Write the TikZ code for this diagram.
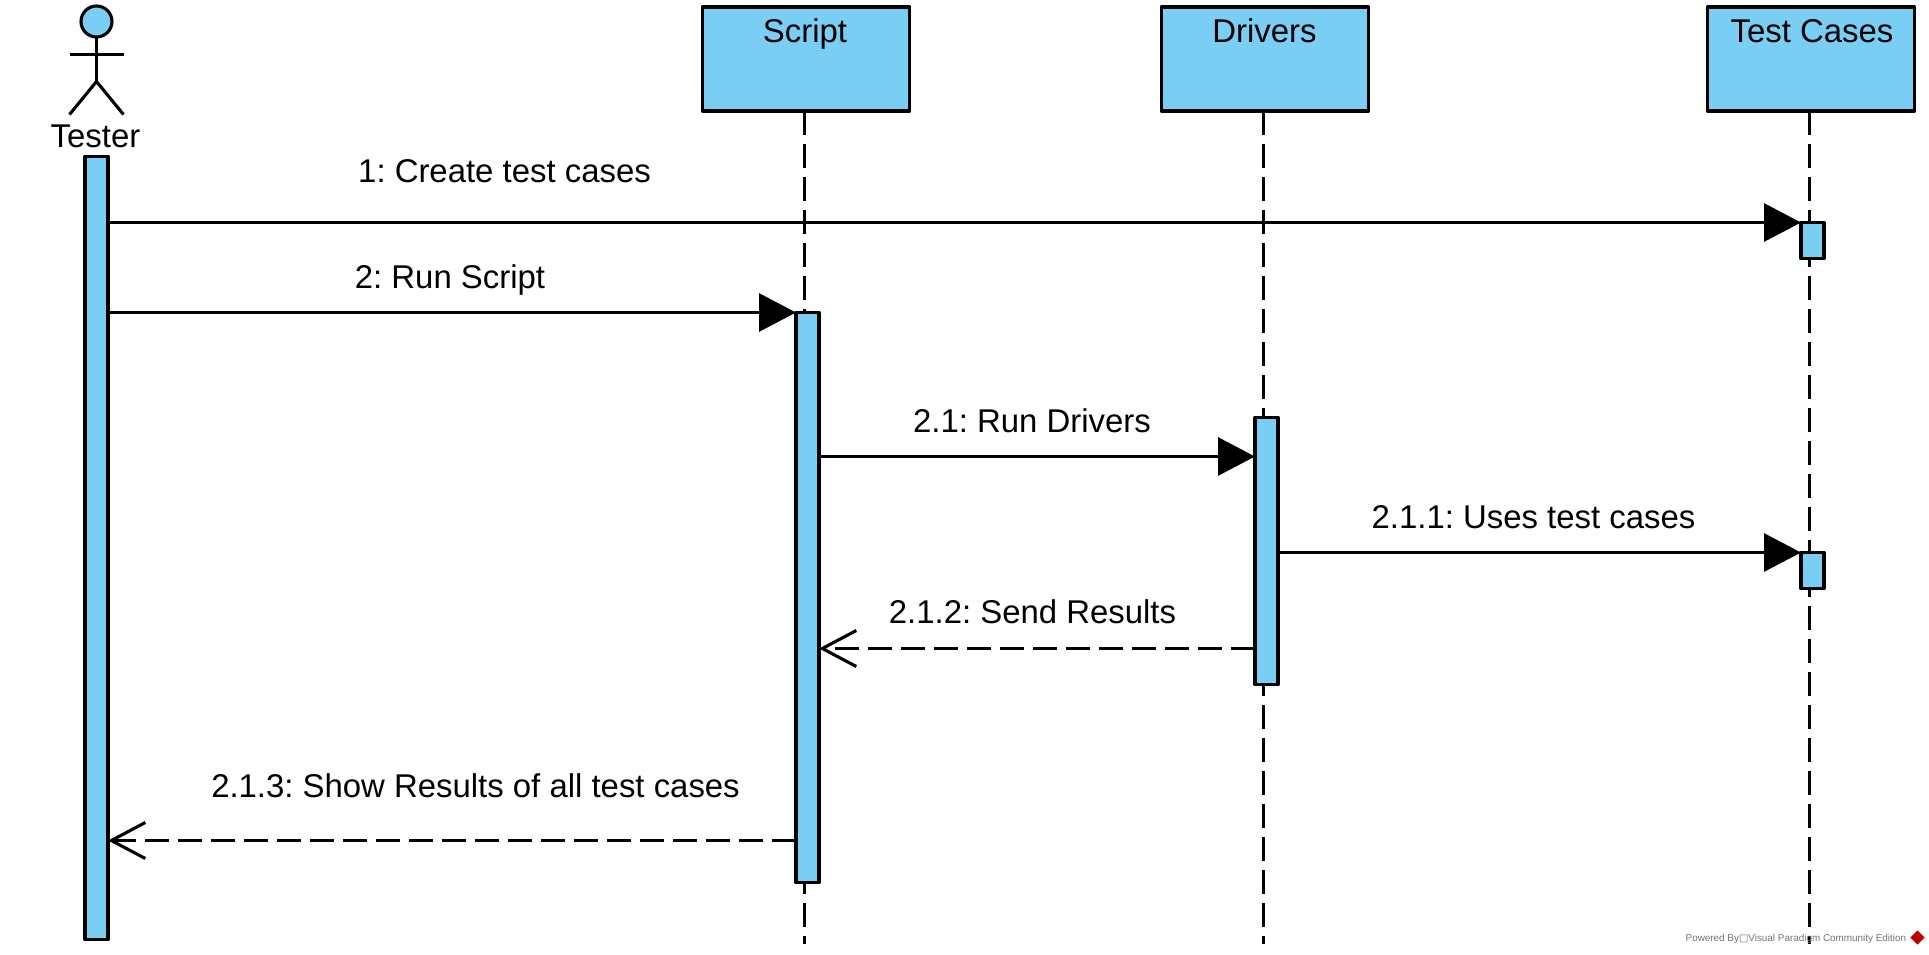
\documentclass[tikz,border=0pt]{standalone}
\usepackage{fontspec}
\setmainfont{Liberation Sans}
\newfontfamily\symfont{DejaVu Sans}
\usetikzlibrary{arrows.meta}
\definecolor{vpblue}{HTML}{7ACEF4}
\begin{document}
\frenchspacing
\begin{tikzpicture}[x=0.5pt, y=-0.5pt, font=\fontsize{16.45}{20}\selectfont, line join=round]
       \tikzstyle{headbox}=[draw, line width=1.55pt, fill=vpblue, minimum width=103.5pt, minimum height=52pt, inner sep=0pt, outer sep=0pt, anchor=north west]
       \tikzstyle{actbar}=[draw, line width=1.55pt, fill=vpblue, minimum width=11.5pt, inner sep=0pt, outer sep=0pt, anchor=north west]
       \tikzstyle{msglabel}=[inner sep=0pt, anchor=base]
       \tikzstyle{lifeline}=[draw, line width=1.55pt, dash pattern=on 12pt off 4.5pt]
       \tikzstyle{callmsg}=[draw, line width=1.55pt, -{Triangle[length=18.5pt,width=19pt]}]
       \tikzstyle{replymsg}=[draw, line width=1.55pt, dash pattern=on 12pt off 4.5pt, -{Straight Barb[length=17pt,width=18pt]}]
       \useasboundingbox (-0.5,-0.5) rectangle (1928.5,953.5);
       % lifeline heads
       \node[headbox] (scriptbox) at (702,6.5) {};
       \node[headbox] (driversbox) at (1161,6.5) {};
       \node[headbox] (casesbox) at (1707,6.5) {};
       \node[msglabel] (scripttext) at (804.5,41.5) {Script};
       \node[msglabel] (driverstext) at (1264,41.5) {Drivers};
       \node[msglabel] (casestext) at (1811.5,41.5) {Test Cases};
       % lifeline ends
       \coordinate (scriptend) at (804,943);
       \coordinate (driversend) at (1263,943);
       \coordinate (casesend) at (1809,943);
       \draw[lifeline] (scriptbox.south -| scriptend) -- (scriptend);
       \draw[lifeline] (driversbox.south -| driversend) -- (driversend);
       \draw[lifeline] (casesbox.south -| casesend) -- (casesend);
       % actor
       \node[draw, circle, line width=1.55pt, fill=vpblue, minimum size=15.5pt, inner sep=0pt, outer sep=0pt] (head) at (96,21) {};
       \coordinate (hip) at (96,81);
       \coordinate (armleft) at (69,54);
       \coordinate (armright) at (123,54);
       \coordinate (footleft) at (69,114);
       \coordinate (footright) at (123,114);
       \draw[line width=1.55pt] (head.south) -- (hip);
       \draw[line width=1.55pt] (armleft) -- (armright);
       \draw[line width=1.55pt] (footleft) -- (hip) -- (footright);
       \node[msglabel] (testertext) at (95,146.5) {Tester};
       % activation bars
       \node[actbar, minimum height=391.5pt] (testerbar) at (84.5,156) {};
       \node[actbar, minimum height=285pt] (scriptbar) at (795.5,312) {};
       \node[actbar, minimum height=133.5pt] (driversbar) at (1254.5,417) {};
       \node[actbar, minimum height=18pt] (casesbarA) at (1800.5,222) {};
       \node[actbar, minimum height=18pt] (casesbarB) at (1800.5,552) {};
       % messages
       \draw[callmsg] (testerbar.east |- casesbarA.north west) -- (casesbarA.north west);
       \draw[callmsg] (testerbar.east |- scriptbar.north west) -- (scriptbar.north west);
       \coordinate (rundrivers) at (0,456);
       \coordinate (sendresults) at (0,648);
       \coordinate (showresults) at (0,840);
       \draw[callmsg] (scriptbar.east |- rundrivers) -- (driversbar.west |- rundrivers);
       \draw[callmsg] (driversbar.east |- casesbarB.north west) -- (casesbarB.north west);
       \draw[replymsg] (driversbar.west |- sendresults) -- (scriptbar.east |- sendresults);
       \draw[replymsg] (scriptbar.west |- showresults) -- (testerbar.east |- showresults);
       % message labels
       \node[msglabel] (labelA) at (504,182) {1: Create test cases};
       \node[msglabel] (labelB) at (449.5,288) {2: Run Script};
       \node[msglabel] (labelC) at (1031.5,432) {2.1: Run Drivers};
       \node[msglabel] (labelD) at (1533,528) {2.1.1: Uses test cases};
       \node[msglabel] (labelE) at (1032,623) {2.1.2: Send Results};
       \node[msglabel] (labelF) at (475,797) {2.1.3: Show Results of all test cases};
       % watermark
       \node[inner sep=0pt, anchor=base east, text=black!55, font=\fontsize{4.95}{6}\selectfont] (powered) at (1906,941) {Powered By{\symfont □}Visual Paradigm Community Edition};
       \node[fill=red!75!black, inner sep=0pt, minimum size=5pt, rotate=45] (vplogo) at (1917,937) {};
      \end{tikzpicture}
\end{document}
